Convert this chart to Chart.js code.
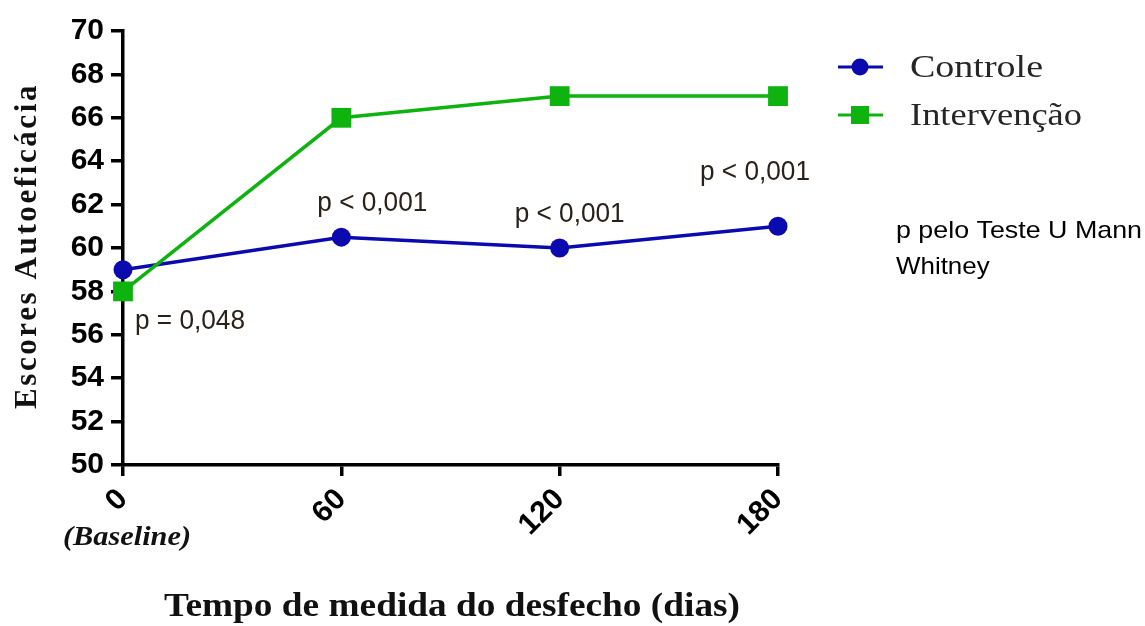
<!DOCTYPE html>
<html>
<head>
<meta charset="utf-8">
<script src="https://cdn.jsdelivr.net/npm/chart.js@4/dist/chart.umd.min.js"></script>
<style>
  html, body { margin: 0; padding: 0; background: #fff; }
  #wrap { width: 1145px; height: 626px; }
</style>
</head>
<body>
<div id="wrap"><canvas id="c" width="1145" height="626"></canvas></div>
<script>
// Follow-up days and self-efficacy scores per group
const dias = [0, 60, 120, 180];
const controle = [59, 60.5, 60, 61];
const intervencao = [58, 66, 67, 67];
const pValores = ['p = 0,048', 'p < 0,001', 'p < 0,001', 'p < 0,001'];
const nomes = ['Controle', 'Intervenção'];
const yMin = 50, yMax = 70, yPasso = 2;
const xPasso = 60;

const AZUL = '#0a0aae';
const VERDE = '#0fb30f';
const SANS = '"Liberation Sans", Arial, sans-serif';
const SERIF = '"Liberation Serif", "Times New Roman", serif';

function texto(ctx, s, x, y, o) {
  ctx.save();
  ctx.translate(x, y);
  if (o.rot) ctx.rotate(o.rot);
  ctx.font = o.font;
  ctx.fillStyle = o.color || '#000';
  ctx.textBaseline = o.baseline || 'middle';
  ctx.textAlign = o.align || 'left';
  ctx.letterSpacing = (o.spacing || 0) + 'px';
  let sx = o.sx || 1;
  if (o.width) {
    const w = ctx.measureText(s).width;
    sx = o.width / w;
  }
  ctx.scale(sx, 1);
  ctx.fillText(s, 0, 0);
  ctx.restore();
}

const extras = {
  id: 'extras',
  afterDraw(chart) {
    const ctx = chart.ctx;
    const xs = chart.scales.x, ys = chart.scales.y;

    // p-values next to the Controle points
    const desl = [[12, 52, 'left'], [31, -34, 'center'], [10, -34, 'center'], [-23, -54, 'center']];
    controle.forEach((v, i) => {
      const px = xs.getPixelForValue(dias[i]);
      const py = ys.getPixelForValue(v);
      texto(ctx, pValores[i], px + desl[i][0], py + desl[i][1], {
        font: '28px ' + SANS, color: '#2a2218', align: desl[i][2], width: 110
      });
    });

    // y axis title
    texto(ctx, 'Escores Autoeficácia', 28, 246, {
      font: 'bold 31px ' + SERIF, align: 'center', rot: -Math.PI / 2, spacing: 2.6, color: '#111'
    });

    // "(Baseline)" under the first tick
    texto(ctx, '(Baseline)', 63, 538, {
      font: 'italic bold 28px ' + SERIF, width: 128, color: '#111'
    });

    // x axis title
    texto(ctx, 'Tempo de medida do desfecho (dias)', 452, 607, {
      font: 'bold 33px ' + SERIF, align: 'center', width: 576, color: '#111'
    });

    // legend
    const leg = [[AZUL, 'circle', 67], [VERDE, 'rect', 115]];
    leg.forEach((l, i) => {
      ctx.save();
      ctx.strokeStyle = l[0];
      ctx.lineWidth = 3;
      ctx.beginPath();
      ctx.moveTo(838, l[2]);
      ctx.lineTo(883, l[2]);
      ctx.stroke();
      ctx.fillStyle = l[0];
      if (l[1] === 'circle') {
        ctx.beginPath();
        ctx.arc(860, l[2], 8.5, 0, Math.PI * 2);
        ctx.fill();
      } else {
        ctx.fillRect(851, l[2] - 9, 18, 18);
      }
      ctx.restore();
      texto(ctx, nomes[i], 910, l[2] + 2, {
        font: '32px ' + SERIF, color: '#262626', width: i === 0 ? 133 : 172
      });
    });

    // test note
    texto(ctx, 'p pelo Teste U Mann', 896, 231, { font: '24px ' + SANS, width: 246, color: '#000' });
    texto(ctx, 'Whitney', 896, 267, { font: '24px ' + SANS, sx: 1.08, color: '#000' });
  }
};

new Chart(document.getElementById('c'), {
  type: 'line',
  data: {
    datasets: [
      {
        label: nomes[0],
        data: dias.map((d, i) => ({ x: d, y: controle[i] })),
        borderColor: AZUL,
        backgroundColor: AZUL,
        borderWidth: 3.5,
        pointStyle: 'circle',
        pointRadius: 9.5,
        pointBorderWidth: 0,
        clip: false,
        order: 1
      },
      {
        label: nomes[1],
        data: dias.map((d, i) => ({ x: d, y: intervencao[i] })),
        borderColor: VERDE,
        backgroundColor: VERDE,
        borderWidth: 3.5,
        pointStyle: 'rect',
        pointRadius: 14,
        pointBorderWidth: 0,
        clip: false,
        order: 0
      }
    ]
  },
  options: {
    responsive: false,
    animation: false,
    events: [],
    layout: { padding: { left: 0, right: 367, top: 31, bottom: 0 } },
    plugins: { legend: { display: false }, tooltip: { enabled: false } },
    scales: {
      x: {
        type: 'linear',
        min: 0, max: 180,
        afterFit(s) { s.height = 161; },
        border: { display: true, color: '#000', width: 3.5 },
        grid: { display: true, drawOnChartArea: false, drawTicks: true, tickLength: 11, color: '#000', lineWidth: 3.5 },
        ticks: {
          stepSize: xPasso,
          minRotation: 45, maxRotation: 45,
          color: '#000',
          padding: 6,
          font: { family: SANS, size: 30, weight: 'bold' },
          callback: v => String(v)
        }
      },
      y: {
        min: yMin, max: yMax,
        afterFit(s) { s.width = 123; },
        border: { display: true, color: '#000', width: 3.5 },
        grid: { display: true, drawOnChartArea: false, drawTicks: true, tickLength: 12, color: '#000', lineWidth: 3.5 },
        ticks: {
          stepSize: yPasso,
          color: '#000',
          padding: 7,
          font: { family: SANS, size: 30, weight: 'bold' }
        }
      }
    }
  },
  plugins: [extras]
});
</script>
</body>
</html>
